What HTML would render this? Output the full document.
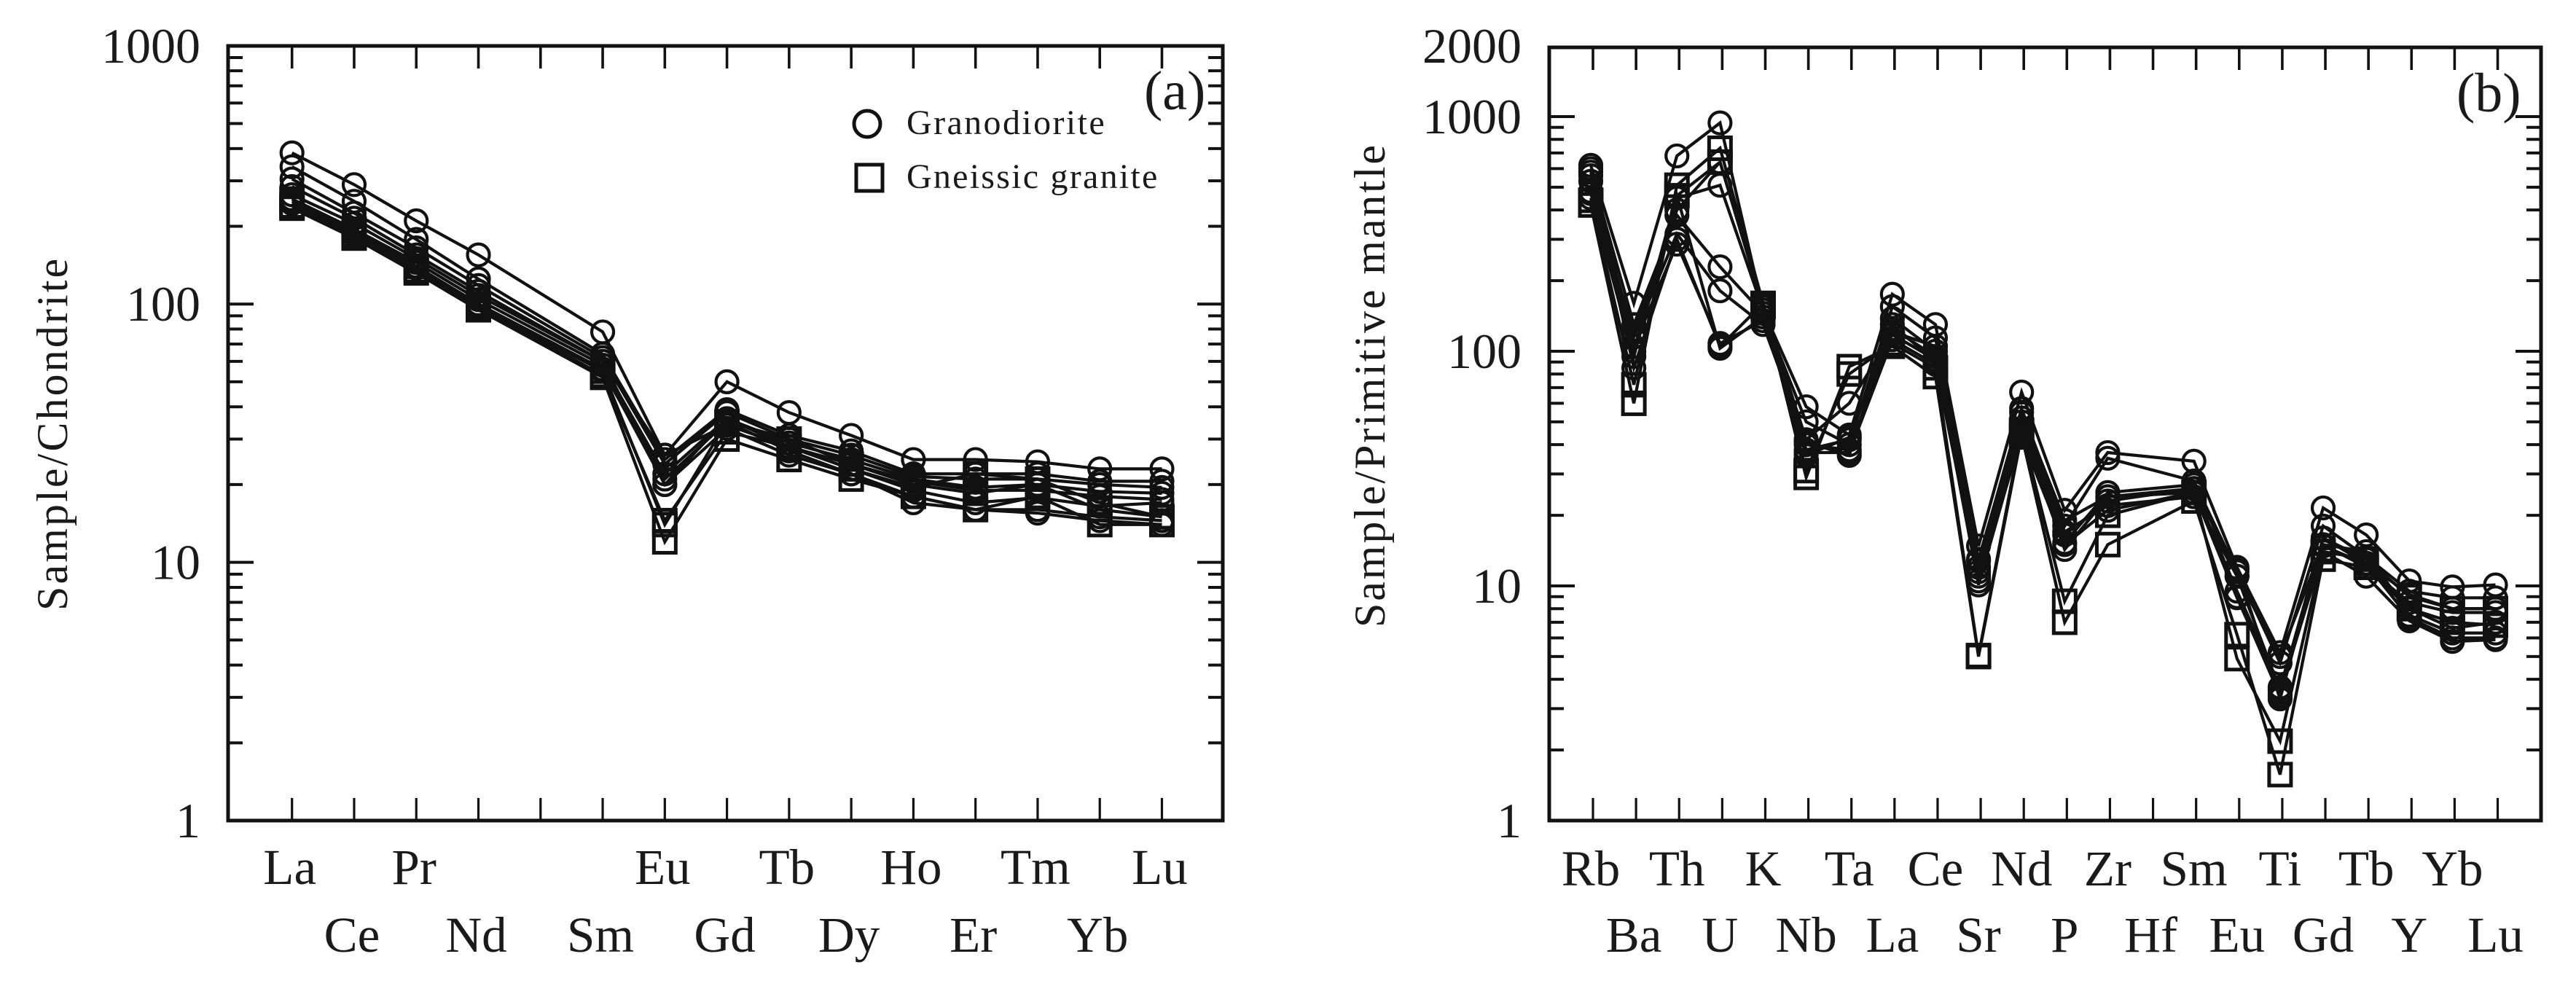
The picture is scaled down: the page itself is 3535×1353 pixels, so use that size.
<!DOCTYPE html>
<html lang="en">
<head>
<meta charset="utf-8">
<title>REE and trace element patterns</title>
<style>
html,body{margin:0;padding:0;background:#fff;}
svg{display:block;}
text{font-family:"Liberation Serif",serif;fill:#1a1a1a;}
</style>
</head>
<body>
<svg id="figure" xmlns="http://www.w3.org/2000/svg" width="3535" height="1353" viewBox="0 0 3535 1353">
  <rect x="0" y="0" width="3535" height="1353" fill="#ffffff"/>
  <g id="panel-a"></g>
  <g id="panel-b"></g>
  <text transform="translate(92,838) rotate(-90)" font-size="60" letter-spacing="3.1">Sample/Chondrite</text>
  <text transform="translate(1900,861) rotate(-90)" font-size="60" letter-spacing="2.9">Sample/Primitive mantle</text>
  <text x="1570" y="150" font-size="76">(a)</text>
  <text x="3371" y="153" font-size="76">(b)</text>
  <g>
    <circle cx="1190" cy="170" r="18" fill="none" stroke="#111" stroke-width="5"/>
    <text x="1244" y="184" font-size="48" letter-spacing="2.4">Granodiorite</text>
    <rect x="1175" y="226" width="36" height="36" fill="none" stroke="#111" stroke-width="5"/>
    <text x="1244" y="258" font-size="48" letter-spacing="2.25">Gneissic granite</text>
  </g>
</svg>
<script>
// ---- Panel (a) data: chondrite-normalised REE ----
const reeCategories = ["La","Ce","Pr","Nd","Pm","Sm","Eu","Gd","Tb","Dy","Ho","Er","Tm","Yb","Lu"];
const reeTickLabels = ["La","Ce","Pr","Nd","","Sm","Eu","Gd","Tb","Dy","Ho","Er","Tm","Yb","Lu"];
const reeYTicks = [1000,100,10,1];
const reeGranodiorite1 = [385,290,210,155,null,78,26,50,38,31,25,25,24.5,23,23];
const reeGranodiorite2 = [340,250,178,125,null,64,25,39,31,27,22,22,22,20.6,20.6];
const reeGranodiorite3 = [305,225,165,118,null,62,24,38,30,26,21.5,21,21,20,19.5];
const reeGranodiorite4 = [285,215,155,112,null,60,20,36,29,25,21,19.5,20,18.8,18.5];
const reeGranodiorite5 = [265,205,150,108,null,60,26,34,28,24,20.6,19,19,18,17.5];
const reeGranodiorite6 = [255,195,145,104,null,58,22,36,28,23,19,17,17.8,16.5,17];
const reeGranodiorite7 = [250,190,140,100,null,56,20,33,26,22,18,16,16,15,14.5];
const reeGranodiorite8 = [245,185,138,98,null,55,21,35,27,22,17,16,15.5,14.5,14];
const reeGneiss1 = [235,180,132,95,null,52,12,30,25,21,18,16,18,14,14];
const reeGneiss2 = [255,195,140,100,null,55,14,35,30,24,20,18.5,20,16,15];
const reeGneiss3 = [240,185,135,97,null,53,14.5,32,28,23,19.5,22,21,17,15];

// ---- Panel (b) data: primitive-mantle-normalised trace elements ----
const traceCategories = ["Rb","Ba","Th","U","K","Nb","Ta","La","Ce","Sr","Nd","P","Zr","Hf","Sm","Eu","Ti","Gd","Tb","Y","Yb","Lu"];
const traceYTicks = [2000,1000,100,10,1];
const traceGranodiorite1 = [620,160,680,940,150,58,44,175,130,14.8,67,21,37,null,34,12,5.2,21.5,16.5,10.5,9.9,10.1];
const traceGranodiorite2 = [580,130,380,229,145,50,40,155,114,12.8,57,18,35,null,28,11.5,4.7,18,13.3,9.5,8.9,8.9];
const traceGranodiorite3 = [530,115,316,181,130,41,36,138,100,11.5,50,15.3,25,null,27,11,3.6,16,12.5,9.2,8,8];
const traceGranodiorite4 = [600,105,286,108,135,40,38,121,105,10.5,47,14.3,24,null,25,9,3.4,15,12,8.5,7.7,7.7];
const traceGranodiorite5 = [480,100,460,103,140,36,43,125,95,10.1,45,16.5,23,null,26,11.8,3.3,16,13,8,6.6,7];
const traceGranodiorite6 = [450,95,450,510,150,38,42,130,90,12,52,17,22,null,24,11,5,15,14,7.5,6.3,6.3];
const traceGranodiorite7 = [470,120,400,640,155,42,60,118,92,13,55,19,24,null,26,9.5,3.7,14.8,12.4,7.3,6,6];
const traceGranodiorite8 = [560,85,300,105,160,37,37,112,88,11,43,15,21,null,25,8.9,3.5,14,11,7.1,5.8,5.9];
const traceGneiss1 = [420,60,510,733,160,29,86,105,78,5,44,7,15,null,23,6.2,1.57,13,12,8,7,6.8];
const traceGneiss2 = [440,72,460,640,155,31,80,108,85,5.05,46,8.6,20,null,25,4.9,2.18,14,13,9,8,8];

const SVG_NS = "http://www.w3.org/2000/svg";
const INK = "#111111";

function make(tag, parent, attrs) {
  const el = document.createElementNS(SVG_NS, tag);
  for (const k in attrs) el.setAttribute(k, attrs[k]);
  parent.appendChild(el);
  return el;
}

function drawAxesFrame(root, box, yScale, yMin, yMax, xScale, count) {
  const frame = make("rect", root, {x: box.l, y: box.t, width: box.r - box.l, height: box.b - box.t, fill: "none", stroke: INK, "stroke-width": 5});
  
  
  for (let i = 0; i < count; i++) {
    const x = xScale(i);
    const top = make("line", root, {x1: x, x2: x, y1: box.t, y2: box.t + 31, stroke: INK, "stroke-width": 3.6});
    
    
    const bottom = make("line", root, {x1: x, x2: x, y1: box.b, y2: box.b - 31, stroke: INK, "stroke-width": 3.2});
    
    
  }
  for (let d = yMin; d < yMax; d *= 10) {
    for (let m = 1; m < 10; m++) {
      const y = yScale(d * m);
      const len = m === 1 ? 35 : 20;
      const left = make("line", root, {x1: box.l, x2: box.l + len, y1: y, y2: y, stroke: INK, "stroke-width": 4});
      
      
      const right = make("line", root, {x1: box.r, x2: box.r - len, y1: y, y2: y, stroke: INK, "stroke-width": 4});
      
      
    }
  }
  const topDecade = yScale(yMax);
  const leftEnd = make("line", root, {x1: box.l, x2: box.l + 35, y1: topDecade, y2: topDecade, stroke: INK, "stroke-width": 4});
  
  
  const rightEnd = make("line", root, {x1: box.r, x2: box.r - 35, y1: topDecade, y2: topDecade, stroke: INK, "stroke-width": 4});
  
  
}

function drawSeries(root, values, kind, xScale, yScale, name) {
  const group = make("g", root, {});
  
  
  const pts = [];
  values.forEach(function (v, i) {
    if (v !== null) pts.push([xScale(i), yScale(v)]);
  });
  const line = make("polyline", group, {points: pts.map(function (p) { return p[0].toFixed(1) + "," + p[1].toFixed(1); }).join(" "), fill: "none", stroke: INK, "stroke-width": 4.2, "stroke-linejoin": "miter"});
  
  
  pts.forEach(function (p) {
    let mark;
    if (kind === "circle") {
      mark = make("circle", group, {cx: p[0], cy: p[1], r: 15, fill: "none", stroke: INK, "stroke-width": 4.2});
    } else {
      mark = make("rect", group, {x: p[0] - 15, y: p[1] - 15, width: 30, height: 30, fill: "none", stroke: INK, "stroke-width": 5});
    }
    
    
  });
}

function drawLabels(root, labels, xScale, y1, y2) {
  labels.forEach(function (lab, i) {
    if (!lab) return;
    const t = make("text", root, {x: xScale(i) - 3, y: i % 2 === 0 ? y1 : y2, "font-size": 69, "text-anchor": "middle"});
    t.textContent = lab;
    
    
  });
}

function drawYLabels(root, ticks, yScale, xEnd) {
  ticks.forEach(function (v) {
    const t = make("text", root, {x: xEnd, y: yScale(v) + 23, "font-size": 68, "text-anchor": "end"});
    t.textContent = String(v);
    
    
  });
}

// Panel (a)
(function () {
  const root = document.getElementById("panel-a");
  const box = {l: 313, r: 1678, t: 63, b: 1126};
  const xScale = function (i) { return 400.7 + i * 85.27; };
  const yScale = function (v) { return 1126 - 354.4 * Math.log10(v); };
  drawAxesFrame(root, box, yScale, 1, 1000, xScale, reeCategories.length);
  [reeGranodiorite1, reeGranodiorite2, reeGranodiorite3, reeGranodiorite4, reeGranodiorite5, reeGranodiorite6, reeGranodiorite7, reeGranodiorite8].forEach(function (s, i) {
    drawSeries(root, s, "circle", xScale, yScale, "ree-granodiorite-" + (i + 1));
  });
  [reeGneiss1, reeGneiss2, reeGneiss3].forEach(function (s, i) {
    drawSeries(root, s, "square", xScale, yScale, "ree-gneissic-granite-" + (i + 1));
  });
  drawLabels(root, reeTickLabels, xScale, 1213, 1306);
  drawYLabels(root, reeYTicks, yScale, 275);
})();

// Panel (b)
(function () {
  const root = document.getElementById("panel-b");
  const box = {l: 2126, r: 3487, t: 65, b: 1126};
  const tickX = function (i) { return 2186 + i * 59.12; };
  const markX = function (i) { return 2183 + i * 59.12; };
  const yScale = function (v) { return 1126 - 322 * Math.log10(v); };
  drawAxesFrame(root, box, yScale, 1, 1000, tickX, traceCategories.length);
  [traceGranodiorite1, traceGranodiorite2, traceGranodiorite3, traceGranodiorite4, traceGranodiorite5, traceGranodiorite6, traceGranodiorite7, traceGranodiorite8].forEach(function (s, i) {
    drawSeries(root, s, "circle", markX, yScale, "trace-granodiorite-" + (i + 1));
  });
  [traceGneiss1, traceGneiss2].forEach(function (s, i) {
    drawSeries(root, s, "square", markX, yScale, "trace-gneissic-granite-" + (i + 1));
  });
  drawLabels(root, traceCategories, tickX, 1215, 1306);
  drawYLabels(root, traceYTicks, yScale, 2088);
})();
</script>
</body>
</html>
